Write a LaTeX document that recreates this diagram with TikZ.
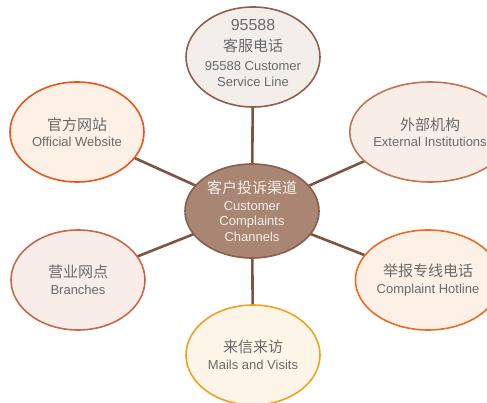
\documentclass[tikz,border=0pt]{standalone}
\usepackage{fontspec}
\setmainfont{Liberation Sans}
\newfontfamily\cjk{Noto Sans CJK SC}
\usetikzlibrary{shapes.geometric,backgrounds}
\definecolor{txt}{HTML}{6A6A6A}
\definecolor{link}{HTML}{7D5442}
\definecolor{tF}{HTML}{F3EEEA}\definecolor{tD}{HTML}{8E6050}
\definecolor{wF}{HTML}{FDF0E6}\definecolor{wD}{HTML}{E8561C}
\definecolor{eF}{HTML}{F9EDE8}\definecolor{eD}{HTML}{C47450}
\definecolor{cF}{HTML}{A98673}\definecolor{cD}{HTML}{8A5E4B}\definecolor{cT}{HTML}{F6EEE9}
\definecolor{bF}{HTML}{F8EDE9}\definecolor{bD}{HTML}{C6694A}
\definecolor{hF}{HTML}{FDF0E6}\definecolor{hD}{HTML}{F06A20}
\definecolor{mF}{HTML}{FDF5E8}\definecolor{mD}{HTML}{F0A21E}
\tikzset{
  bub/.style={ellipse, draw, line width=1.6pt, minimum width=134pt, minimum height=100pt,
    inner sep=0pt, align=center, text=txt, font=\fontsize{13}{15.5}\selectfont},
  conn/.style={draw=link, line width=2.6pt},
}
\newcommand{\zh}[1]{{\cjk\fontsize{15}{18}\selectfont #1}}
\newcommand{\bignum}[1]{{\fontsize{16}{18}\selectfont #1}}
\begin{document}
\begin{tikzpicture}[x=1pt,y=1pt]
\useasboundingbox (0,0) rectangle (487,-403);
\node[bub, fill=tF, draw=tD] (t) at (253,-57) {};
\node[align=center, text=txt, inner sep=0pt, font=\fontsize{13}{15.5}\selectfont] (tt) at (253,-53)
  {\bignum{95588}\\[5pt]\zh{客服电话}\\[4pt]95588 Customer\\Service Line};
\node[bub, fill=wF, draw=wD] (w) at (77,-132)
  {\zh{官方网站}\\[1pt]Official Website};
\node[bub, fill=eF, draw=eD] (e) at (430,-132)
  {\zh{外部机构}\\[1pt]External Institutions};
\node[bub, minimum height=94pt, fill=cF, draw=cD, text=cT] (c) at (252,-211)
  {\zh{客户投诉渠道}\\[1pt]Customer\\Complaints\\Channels};
\node[bub, fill=bF, draw=bD] (b) at (78,-280)
  {\zh{营业网点}\\[1pt]Branches};
\node[bub, fill=hF, draw=hD] (h) at (428,-280)
  {\zh{举报专线电话}\\[1pt]Complaint Hotline};
\node[bub, fill=mF, draw=mD] (m) at (253,-355)
  {\zh{来信来访}\\[1pt]Mails and Visits};
\begin{scope}[on background layer]
  \draw[conn] (c.center) -- (t.center);
  \draw[conn] (c.center) -- (w.center);
  \draw[conn] (c.center) -- (e.center);
  \draw[conn] (c.center) -- (b.center);
  \draw[conn] (c.center) -- (h.center);
  \draw[conn] (c.center) -- (m.center);
\end{scope}
\end{tikzpicture}
\end{document}
